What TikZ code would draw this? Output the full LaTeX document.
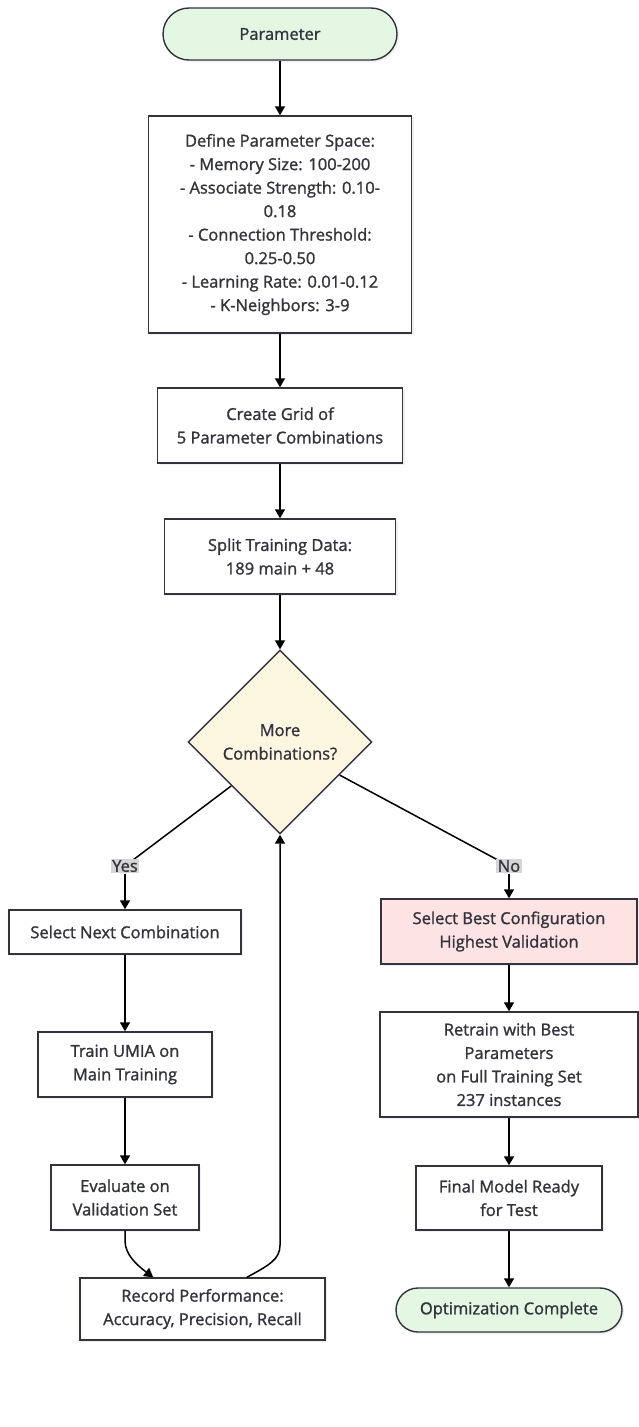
\documentclass[tikz,border=0pt]{standalone}
\usepackage{fontspec}
\setmainfont{Open Sans}[FakeBold=1.3]
\usetikzlibrary{positioning,arrows.meta,calc,shapes.geometric,shadows}

\definecolor{edgec}{HTML}{33333D}
\definecolor{termfill}{HTML}{E4F7E3}
\definecolor{decfill}{HTML}{FDF6E1}
\definecolor{bestfill}{HTML}{FDE3E3}
\definecolor{lblfill}{HTML}{D6D6D6}

\begin{document}
\begin{tikzpicture}[x=1pt, y=-1pt,
      font=\fontsize{16.5}{23.5}\selectfont, text=edgec,
      stepbox/.style={draw=edgec, line width=1.4pt, fill=white, align=center, inner sep=0pt,
        drop shadow={opacity=0.12, shadow xshift=2pt, shadow yshift=-2pt}},
      term/.style={stepbox, fill=termfill, rounded corners=22pt},
      decide/.style={diamond, draw=edgec, line width=1.4pt, fill=decfill, align=center, inner sep=0pt},
      best/.style={stepbox, fill=bestfill},
      lbl/.style={fill=lblfill, inner sep=1.5pt},
      arr/.style={-{Triangle[length=9pt,width=10pt]}, line width=1.5pt, draw=black},
      link/.style={line width=1.5pt, draw=black},
    ]
    \useasboundingbox (0,0) rectangle (638,1427);
    \node[term, minimum width=234pt, minimum height=52pt, rounded corners=26pt] (start) at (280,34) {Parameter};
    \node[stepbox, minimum width=263pt, minimum height=217pt] (space) at (280,224.5)
      {Define Parameter Space:\\ - Memory Size: 100-200\\ - Associate Strength: 0.10-\\ 0.18\\
       - Connection Threshold:\\ 0.25-0.50\\ - Learning Rate: 0.01-0.12\\ - K-Neighbors: 3-9};
    \node[stepbox, minimum width=245pt, minimum height=75pt] (grid) at (280,425.5) {Create Grid of\\ 5 Parameter Combinations};
    \node[stepbox, minimum width=231pt, minimum height=75pt] (split) at (280,556.5) {Split Training Data:\\ 189 main + 48};
    \node[decide, minimum width=184pt, minimum height=184pt] (more) at (280,742) {More\\ Combinations?};

    \node[stepbox, minimum width=232pt, minimum height=44pt] (next) at (125,932) {Select Next Combination};
    \node[stepbox, minimum width=174pt, minimum height=65pt] (train) at (125,1064.5) {Train UMIA on\\ Main Training};
    \node[stepbox, minimum width=148pt, minimum height=65pt] (eval) at (125,1197.5) {Evaluate on\\ Validation Set};
    \node[stepbox, minimum width=245pt, minimum height=62pt] (rec) at (202.5,1309) {Record Performance:\\ Accuracy, Precision, Recall};

    \node[best, minimum width=256pt, minimum height=65pt] (pick) at (509,931.5) {Select Best Configuration\\ Highest Validation};
    \node[stepbox, minimum width=258pt, minimum height=105pt] (retrain) at (509,1064.5)
      {Retrain with Best\\ Parameters\\ on Full Training Set\\ 237 instances};
    \node[stepbox, minimum width=186pt, minimum height=64pt] (final) at (509,1198) {Final Model Ready\\ for Test};
    \node[term, minimum width=226pt, minimum height=44pt] (done) at (509,1310) {Optimization Complete};

    \draw[arr] (start) -- (space);
    \draw[arr] (space) -- (grid);
    \draw[arr] (grid) -- (split);
    \draw[arr] (split) -- (more);

    % Yes / No branches leave the diamond and bend at their labels
    \draw[link] (more.222) -- (125,866);
    \node[lbl] (yes) at (125,866) {Yes};
    \draw[arr] (yes) -- (next);
    \draw[link] (more.331) -- (509,866);
    \node[lbl] (no) at (509,866) {No};
    \draw[arr] (no) -- (pick);

    \draw[arr] (next) -- (train);
    \draw[arr] (train) -- (eval);
    \draw[arr] (eval.south) -- ++(0,10) .. controls +(0,14) and +(-16,-12)
      .. ($(rec.north west)!0.3!(rec.north east)$);
    \draw[arr] ($(rec.north west)!0.68!(rec.north east)$) .. controls +(22,-12) and +(0,14)
      .. ($(more.south |- rec.north)+(0,-32)$) -- (more.south);

    \draw[arr] (pick) -- (retrain);
    \draw[arr] (retrain) -- (final);
    \draw[arr] (final) -- (done);
  \end{tikzpicture}
\end{document}
